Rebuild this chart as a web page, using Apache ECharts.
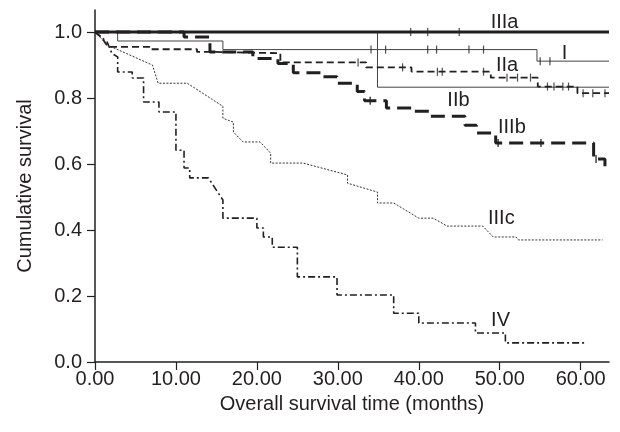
<!DOCTYPE html>
<html>
<head>
<meta charset="utf-8">
<script src="https://cdn.jsdelivr.net/npm/echarts@6/dist/echarts.min.js"></script>
<style>
html,body{margin:0;padding:0;background:#fff;}
#chart{width:620px;height:432px;}
</style>
</head>
<body>
<div id="chart"></div>
<script>
// ---- data (months, cumulative survival) ----
const xTicks = [0, 10, 20, 30, 40, 50, 60];
const yTicks = [0, 0.2, 0.4, 0.6, 0.8, 1.0];
const groupNames = ['I', 'IIa', 'IIb', 'IIIa', 'IIIb', 'IIIc', 'IV'];

const curveI = [[0,1],[2.8,1],[2.8,0.973],[15.8,0.973],[15.8,0.947],[54.6,0.947],[54.6,0.912],[63.5,0.912]];
const censorI = [[34.1,0.947],[35.9,0.947],[41.1,0.947],[42.2,0.947],[46.2,0.947],[48.0,0.947],[55.0,0.912],[56.2,0.912]];

const curveIIa = [[0,1],[0.8,0.985],[1.6,0.955],[6.8,0.955],[6.8,0.948],[12.6,0.948],[12.6,0.94],[14.5,0.94],[14.5,0.936],[22.9,0.936],[22.9,0.908],[33.5,0.908],[33.5,0.893],[39.1,0.893],[39.1,0.88],[48.9,0.88],[48.9,0.862],[54.7,0.862],[54.7,0.835],[59.6,0.835],[59.6,0.815],[63.5,0.815]];
const censorIIa = [[32.5,0.908],[38.0,0.893],[42.3,0.88],[42.9,0.88],[48.0,0.88],[50.9,0.862],[52.2,0.862],[53.8,0.862],[55.9,0.835],[56.7,0.835],[57.8,0.835],[58.5,0.835],[60.3,0.815],[61.5,0.815],[63.0,0.815]];

const curveIIb = [[0,1],[34.9,1],[34.9,0.833],[63.5,0.833]];

const curveIIIa = [[0,1],[63.5,1]];
const censorIIIa = [[39.0,1],[41.1,1],[45.0,1]];

const curveIIIb = [[0,1],[11.0,1],[11.0,0.985],[14.2,0.985],[14.2,0.94],[19.5,0.94],[19.5,0.92],[22.6,0.92],[22.6,0.905],[24.5,0.905],[24.5,0.877],[28.1,0.877],[28.1,0.865],[29.9,0.865],[29.9,0.845],[32.4,0.845],[32.4,0.82],[33.3,0.82],[33.3,0.792],[36.0,0.792],[36.0,0.77],[39.1,0.77],[39.1,0.76],[41.4,0.76],[41.4,0.745],[45.7,0.745],[45.7,0.718],[47.1,0.718],[47.1,0.694],[49.5,0.694],[49.5,0.664],[61.6,0.664],[61.6,0.615],[63.0,0.615],[63.0,0.59]];
const censorIIIb = [[34.0,0.792],[49.8,0.664],[55.1,0.664],[61.9,0.615]];

const curveIIIc = [[0,1],[1.6,0.96],[7.1,0.9],[7.8,0.845],[11.4,0.845],[15.8,0.775],[15.8,0.739],[17.1,0.727],[17.1,0.697],[18.3,0.667],[20.4,0.667],[21.7,0.633],[21.7,0.603],[25.7,0.603],[31.2,0.567],[31.2,0.542],[34.9,0.515],[34.9,0.482],[36.9,0.482],[40.0,0.436],[41.8,0.436],[43.5,0.412],[47.9,0.412],[49.2,0.379],[52.0,0.379],[52.3,0.37],[62.7,0.37]];

const curveIV = [[0,1],[1.5,0.97],[2.1,0.935],[2.8,0.925],[2.8,0.879],[4.6,0.879],[4.6,0.861],[6.0,0.861],[6.0,0.788],[7.9,0.788],[7.9,0.758],[10.0,0.758],[10.0,0.642],[11.0,0.642],[11.0,0.588],[11.7,0.588],[11.7,0.558],[14.0,0.558],[15.8,0.491],[15.8,0.436],[20.0,0.436],[20.0,0.406],[20.8,0.406],[20.8,0.379],[21.9,0.379],[21.9,0.348],[25.0,0.348],[25.0,0.258],[29.9,0.258],[29.9,0.203],[36.9,0.203],[36.9,0.148],[40.0,0.148],[40.0,0.118],[47.0,0.118],[47.0,0.088],[50.7,0.088],[50.7,0.058],[60.6,0.058]];

// ---- label anchors (data coords) ----
const labelAnchors = [[58.0,0.936],[50.9,0.9],[44.9,0.794],[50.6,1.03],[51.5,0.712],[50.2,0.436],[50.1,0.127]];

const FONT = 'Liberation Sans, Arial, sans-serif';
const INK = '#231f20';

function line(name, data, style) {
  return { name, type: 'line', data, showSymbol: false, symbol: 'none', silent: true,
    lineStyle: Object.assign({ color: INK, width: 1 }, style), z: 3 };
}
function censor(data, w) {
  return { type: 'scatter', data, symbol: 'rect', symbolSize: [w || 1.2, 8], silent: true,
    itemStyle: { color: INK }, z: 4 };
}

const chart = echarts.init(document.getElementById('chart'), null, { renderer: 'canvas' });
chart.setOption({
  animation: false,
  backgroundColor: '#fff',
  grid: { left: 95, right: 11, top: 10, bottom: 70, containLabel: false },
  xAxis: {
    type: 'value', min: 0, max: 63.5,
    name: 'Overall survival time (months)', nameLocation: 'middle', nameGap: 32,
    nameTextStyle: { fontFamily: FONT, fontSize: 20, color: INK },
    axisLine: { show: true, lineStyle: { color: INK, width: 1.5 } },
    axisTick: { show: true, length: 8, inside: false, customValues: xTicks, lineStyle: { color: INK, width: 1.2 } },
    axisLabel: { customValues: xTicks, margin: 7, fontFamily: FONT, fontSize: 20, color: INK,
      formatter: v => v.toFixed(2) },
    splitLine: { show: false }
  },
  yAxis: {
    type: 'value', min: 0, max: 1.067,
    name: 'Cumulative survival', nameLocation: 'middle', nameGap: 60,
    nameTextStyle: { fontFamily: FONT, fontSize: 20, color: INK },
    axisLine: { show: true, lineStyle: { color: INK, width: 1.5 } },
    axisTick: { show: true, length: 8, inside: false, customValues: yTicks, lineStyle: { color: INK, width: 1.2 } },
    axisLabel: { customValues: yTicks, margin: 13, fontFamily: FONT, fontSize: 20, color: INK,
      formatter: v => v.toFixed(1) },
    splitLine: { show: false }
  },
  series: [
    line('IIIc', curveIIIc, { width: 1, type: [2, 1.5], color: '#333' }),
    line('IV', curveIV, { width: 1.6, type: [7, 3, 2, 3] }),
    line('I', curveI, { width: 1, color: '#444' }),
    line('IIb', curveIIb, { width: 1, color: '#444' }),
    line('IIa', curveIIa, { width: 1.8, type: [7, 4] }),
    line('IIIb', curveIIIb, { width: 3, type: [14, 7] }),
    line('IIIa', curveIIIa, { width: 3 }),
    censor(censorI), censor(censorIIa), censor(censorIIIa), censor(censorIIIb, 1.6),
    {
      type: 'scatter', silent: true, symbolSize: 0, itemStyle: { color: INK, opacity: 1 }, z: 5,
      data: labelAnchors.map((p, i) => ({ value: p, name: groupNames[i] })),
      label: { show: true, position: 'inside', formatter: p => p.name,
        fontFamily: FONT, fontSize: 20, color: INK, textBorderWidth: 0, opacity: 1 }
    }
  ]
});
</script>
</body>
</html>
